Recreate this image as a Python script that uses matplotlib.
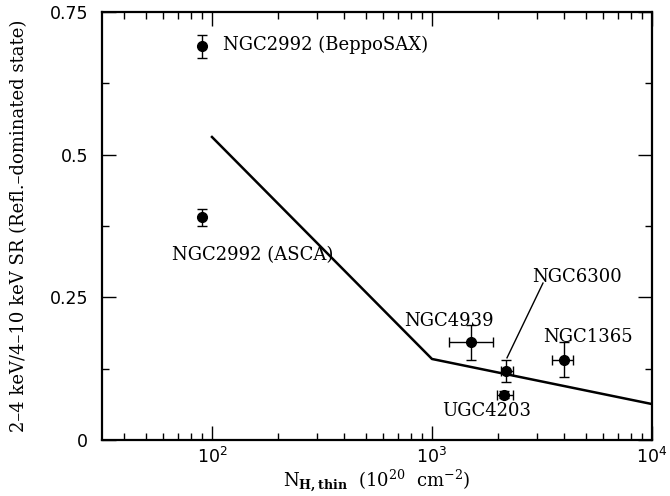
import matplotlib
matplotlib.use("Agg")
import matplotlib.pyplot as plt
from matplotlib.ticker import LogLocator, MultipleLocator, FixedLocator, NullFormatter

plt.rcParams["mathtext.fontset"] = "dejavuserif"

# ---- data ----
names = ["NGC2992 (BeppoSAX)", "NGC2992 (ASCA)", "NGC4939", "NGC6300", "UGC4203", "NGC1365"]
nh = [90, 90, 1500, 2180, 2130, 3980]
nh_lo = [0, 0, 300, 120, 160, 480]
nh_hi = [0, 0, 400, 150, 200, 400]
sr = [0.690, 0.390, 0.171, 0.121, 0.079, 0.141]
sr_err = [0.020, 0.015, 0.030, 0.020, 0.006, 0.030]

model_nh = [100, 1000, 10000]
model_sr = [0.531, 0.142, 0.063]

yticks = [0, 0.25, 0.5, 0.75]
ytick_labels = ["0", "0.25", "0.5", "0.75"]

fig = plt.figure(figsize=(6.7, 4.96), dpi=100)
ax = fig.add_axes([0.1522, 0.1129, 0.8209, 0.8629])

ax.plot(model_nh, model_sr, color="black", lw=1.8)
ax.errorbar(nh, sr, yerr=sr_err, xerr=[nh_lo, nh_hi], fmt="o", color="black",
            ms=7, elinewidth=1.0, capsize=3.5, capthick=1.0)

ax.set_xscale("log")
ax.set_xlim(10**1.5, 1e4)
ax.set_ylim(0, 0.75)

serif = "DejaVu Serif"
fs = 13
ax.text(112, 0.692, names[0], fontsize=fs, family=serif, va="center", ha="left")
ax.text(355, 0.324, names[1], fontsize=fs, family=serif, va="center", ha="right")
ax.text(1195, 0.209, names[2], fontsize=fs, family=serif, va="center", ha="center")
ax.text(2848, 0.2856, names[3], fontsize=fs, family=serif, va="center", ha="left")
ax.text(1778, 0.0514, names[4], fontsize=fs, family=serif, va="center", ha="center")
ax.text(3196, 0.180, names[5], fontsize=fs, family=serif, va="center", ha="left")
ax.plot([3196, 2193], [0.275, 0.144], color="black", lw=1.0)

ax.yaxis.set_major_locator(FixedLocator(yticks))
ax.yaxis.set_minor_locator(MultipleLocator(0.125))
ax.set_yticklabels(ytick_labels)
ax.xaxis.set_major_locator(LogLocator(base=10, numticks=10))
ax.xaxis.set_minor_locator(LogLocator(base=10, subs=range(2, 10), numticks=50))
ax.xaxis.set_minor_formatter(NullFormatter())

ax.tick_params(which="both", direction="in", top=True, right=True, labelsize=12.5)
ax.tick_params(axis="y", pad=10)
ax.tick_params(axis="x", pad=5)
ax.tick_params(which="major", length=10, width=1.0)
ax.tick_params(which="minor", length=5, width=1.0)
for s in ax.spines.values():
    s.set_linewidth(1.6)
for lab in ax.get_xticklabels() + ax.get_yticklabels():
    lab.set_family("DejaVu Sans")
ax.xaxis.get_major_formatter()
import matplotlib.ticker as mt
ax.xaxis.set_major_formatter(mt.FuncFormatter(lambda v, p: r"$\mathsf{10^{%d}}$" % round(__import__("math").log10(v))))

ax.set_xlabel(r"N$_{\mathbf{H,thin}}$  (10$^{20}$  cm$^{-2}$)", fontsize=13, family=serif)
ax.xaxis.set_label_coords(0.5, -0.063)
ax.set_ylabel("2–4 keV/4–10 keV SR (Refl.–dominated state)", fontsize=13, family=serif)
ax.yaxis.set_label_coords(-0.134, 0.5)

fig.savefig("out.png", dpi=100)
